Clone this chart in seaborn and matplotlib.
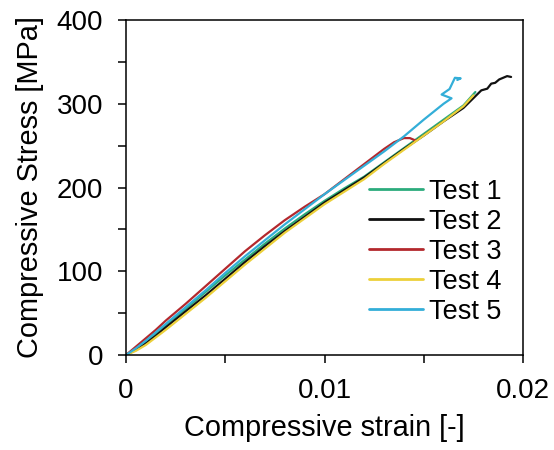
import numpy as np
import pandas as pd
import matplotlib
matplotlib.use("Agg")
import matplotlib.pyplot as plt
from matplotlib.ticker import MultipleLocator, FixedLocator
import seaborn as sns

# ---- data ----
tests = ["Test 1", "Test 2", "Test 3", "Test 4", "Test 5"]
colors = ["#2bab7c", "#111111", "#b3282d", "#ecd03a", "#33aed8"]

strain_1 = [0, 0.0005, 0.001, 0.0015, 0.002, 0.003, 0.004, 0.005, 0.006, 0.007, 0.008,
            0.009, 0.010, 0.011, 0.012, 0.013, 0.014, 0.015, 0.016, 0.017, 0.0176]
stress_1 = [0, 7, 16, 26, 36, 55, 75, 95, 114, 133, 151,
            168, 184, 199, 213, 230, 247, 264, 281, 298, 314]

strain_2 = [0, 0.0005, 0.001, 0.0015, 0.002, 0.003, 0.004, 0.005, 0.006, 0.007, 0.008,
            0.009, 0.010, 0.011, 0.012, 0.013, 0.014, 0.015, 0.016, 0.017, 0.0176,
            0.0179, 0.0182, 0.0184, 0.0186, 0.0188, 0.0190, 0.0192, 0.0194]
stress_2 = [0, 6, 14, 23, 33, 52, 71, 91, 111, 130, 148,
            165, 182, 197, 212, 229, 246, 262, 279, 295, 309,
            316, 318, 324, 325, 329, 331, 333, 332]

strain_3 = [0, 0.0005, 0.001, 0.0015, 0.002, 0.003, 0.004, 0.005, 0.006, 0.007, 0.008,
            0.009, 0.010, 0.011, 0.012, 0.013, 0.0135, 0.014, 0.0143, 0.0146]
stress_3 = [0, 10, 20, 30, 41, 61, 82, 103, 124, 143, 161,
            177, 192, 210, 228, 246, 254, 259, 259, 256]

strain_4 = [0, 0.0005, 0.001, 0.0015, 0.002, 0.003, 0.004, 0.005, 0.006, 0.007, 0.008,
            0.009, 0.010, 0.011, 0.012, 0.013, 0.014, 0.015, 0.016, 0.017, 0.0175]
stress_4 = [0, 5, 12, 21, 30, 49, 68, 88, 108, 127, 146,
            163, 180, 195, 210, 228, 245, 262, 279, 297, 310]

strain_5 = [0, 0.0005, 0.001, 0.0015, 0.002, 0.003, 0.004, 0.005, 0.006, 0.007, 0.008,
            0.009, 0.010, 0.011, 0.012, 0.013, 0.014, 0.015, 0.016, 0.0164,
            0.0159, 0.0163, 0.01657, 0.01686, 0.01669]
stress_5 = [0, 8, 17, 27, 37, 57, 77, 98, 118, 137, 156,
            174, 192, 209, 226, 243, 261, 281, 300, 306.5,
            311, 317.6, 331, 330.3, 328.4]

x_ticks = [0, 0.01, 0.02]
x_tick_labels = ["0", "0.01", "0.02"]
y_ticks = [0, 100, 200, 300, 400]

strains = [strain_1, strain_2, strain_3, strain_4, strain_5]
stresses = [stress_1, stress_2, stress_3, stress_4, stress_5]

frames = []
for name, sx, sy in zip(tests, strains, stresses):
    frames.append(pd.DataFrame({"strain": sx, "stress": sy, "Test": name}))
df = pd.concat(frames, ignore_index=True)

# ---- plot ----
sns.set_style("ticks")
plt.rcParams["font.family"] = ["Liberation Sans", "DejaVu Sans"]
plt.rcParams["text.color"] = "black"
plt.rcParams["axes.labelcolor"] = "black"

fig = plt.figure(figsize=(5.54, 4.50), dpi=100)
ax = fig.add_axes([126 / 554, 1 - 355 / 450, (523 - 126) / 554, (355 - 20) / 450])

sns.lineplot(data=df, x="strain", y="stress", hue="Test", hue_order=tests,
             palette=dict(zip(tests, colors)), sort=False, estimator=None,
             units="Test", linewidth=1.6, ax=ax, legend=True)

ax.set_xlim(0, 0.02)
ax.set_ylim(0, 400)
ax.xaxis.set_major_locator(FixedLocator(x_ticks))
ax.set_xticklabels(x_tick_labels)
ax.xaxis.set_minor_locator(MultipleLocator(0.005))
ax.yaxis.set_major_locator(FixedLocator(y_ticks))
ax.yaxis.set_minor_locator(MultipleLocator(50))

for s in ax.spines.values():
    s.set_visible(True)
    s.set_linewidth(1.1)
    s.set_color("black")

ax.tick_params(which="both", direction="out", length=6, width=1.1, color="black")
ax.tick_params(which="major", labelsize=20, pad=10.5, labelcolor="black")
ax.tick_params(axis="x", which="both", top=False)
ax.tick_params(axis="y", which="both", right=False)

ax.set_xlabel("Compressive strain [-]", fontsize=20.8, labelpad=7, color="black")
ax.set_ylabel("Compressive Stress [MPa]", fontsize=20.8, labelpad=9, color="black")

handles, labels = ax.get_legend_handles_labels()
leg = ax.legend(handles, labels, loc="lower right", bbox_to_anchor=(0.945, 0.09),
                frameon=False, fontsize=19.5, handlelength=2.0, handletextpad=0.2,
                labelspacing=0.15, borderpad=0, borderaxespad=0)
for line in leg.get_lines():
    line.set_linewidth(2.0)
for t in leg.get_texts():
    t.set_color("black")

fig.savefig("out.png", dpi=100)
